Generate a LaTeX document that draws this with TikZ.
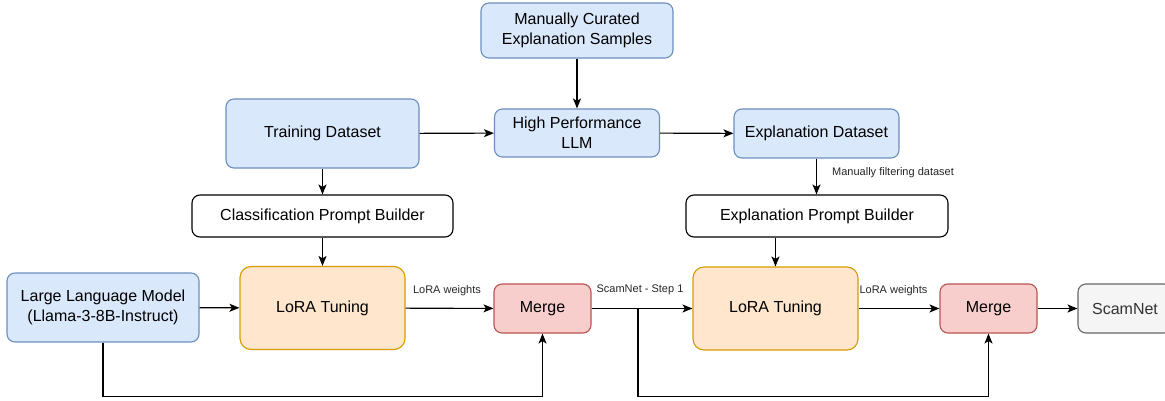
\documentclass[tikz,border=0pt]{standalone}
\usepackage{fontspec}
\setmainfont{Liberation Sans}
\usetikzlibrary{arrows.meta}
\definecolor{bluefill}{HTML}{DAE8FC}
\definecolor{bluedraw}{HTML}{6C8EBF}
\definecolor{orangefill}{HTML}{FFE6CC}
\definecolor{orangedraw}{HTML}{D79B00}
\definecolor{redfill}{HTML}{F8CECC}
\definecolor{reddraw}{HTML}{B85450}
\definecolor{grayfill}{HTML}{F5F5F5}
\definecolor{graydraw}{HTML}{666666}
\definecolor{graytext}{HTML}{333333}
\tikzset{
  box/.style={draw, line width=1.1pt, inner sep=0pt, align=center,
    font=\fontsize{16}{20}\selectfont, rounded corners=8pt},
  bluebox/.style={box, fill=bluefill, draw=bluedraw},
  orangebox/.style={box, fill=orangefill, draw=orangedraw, rounded corners=11pt},
  redbox/.style={box, fill=redfill, draw=reddraw},
  graybox/.style={box, fill=grayfill, draw=graydraw, text=graytext},
  plainbox/.style={box, fill=white, draw=black},
  arr/.style={line width=1.1pt, -{Stealth[length=10pt,width=8pt,inset=2.5pt]}},
  lbl/.style={font=\fontsize{11}{13}\selectfont, inner sep=0pt, text=black!85}
}
\begin{document}
\begin{tikzpicture}[x=1pt, y=-1pt]
\useasboundingbox (0,0) rectangle (1165,401);
\begin{scope}
\clip (0,0) rectangle (1165,401);

% upper row
\node[bluebox, minimum width=192pt, minimum height=55pt] (mcs) at (577,30.5) {Manually Curated\\Explanation Samples};
\node[bluebox, minimum width=193pt, minimum height=69pt] (train) at (322.5,133.5) {Training Dataset};
\node[bluebox, minimum width=165pt, minimum height=48pt] (hpl) at (577,133) {High Performance\\LLM};
\node[bluebox, minimum width=165pt, minimum height=49pt] (expd) at (816.5,133.5) {Explanation Dataset};

% prompt builders
\node[plainbox, minimum width=261pt, minimum height=42pt] (cpb) at (322.5,216) {Classification Prompt Builder};
\node[plainbox, minimum width=262pt, minimum height=42pt] (epb) at (817,216) {Explanation Prompt Builder};

% lower row
\node[bluebox, minimum width=192pt, minimum height=69pt] (llm) at (103,307.5) {Large Language Model\\(Llama-3-8B-Instruct)};
\node[orangebox, minimum width=165pt, minimum height=83pt] (lora1) at (322.5,308) {LoRA Tuning};
\node[redbox, minimum width=97pt, minimum height=49pt] (merge1) at (542.5,308.5) {Merge};
\node[orangebox, minimum width=165pt, minimum height=83pt] (lora2) at (775.5,308.5) {LoRA Tuning};
\node[redbox, minimum width=97pt, minimum height=49pt] (merge2) at (988.5,308.5) {Merge};
\node[graybox, minimum width=94pt, minimum height=49pt] (scam) at (1125,308.5) {ScamNet};
\end{scope}

% routing points
\coordinate (loop1) at (542.5,396.5);
\coordinate (split) at (638,308.5);
\coordinate (loop2) at (988.5,396.5);

% connectors
\draw[arr] (mcs) -- (hpl);
\draw[arr] (train) -- (hpl);
\draw[arr] (hpl) -- (expd);
\draw[arr] (train) -- (cpb);
\draw[arr] (cpb) -- (lora1);
\draw[arr] (expd.south -| 816.5,0) -- (epb.north -| 816.5,0);
\draw[arr] (epb.south -| lora2) -- (lora2);
\draw[arr] (llm) -- (lora1);
\draw[arr] (lora1) -- (merge1);
\draw[arr] (merge1) -- (lora2);
\draw[arr] (lora2) -- (merge2);
\draw[arr] (merge2) -- (scam);
\draw[arr] (llm.south) |- (loop1) -- (merge1.south);
\draw[arr] (split) |- (loop2) -- (merge2.south);

% labels
\node[lbl] (lw1) at (447,291) {LoRA weights};
\node[lbl] (step1) at (640,289.5) {ScamNet - Step 1};
\node[lbl] (lw2) at (893.5,291) {LoRA weights};
\node[lbl, anchor=west] (filt) at (832,173) {Manually filtering dataset};
\end{tikzpicture}
\end{document}
